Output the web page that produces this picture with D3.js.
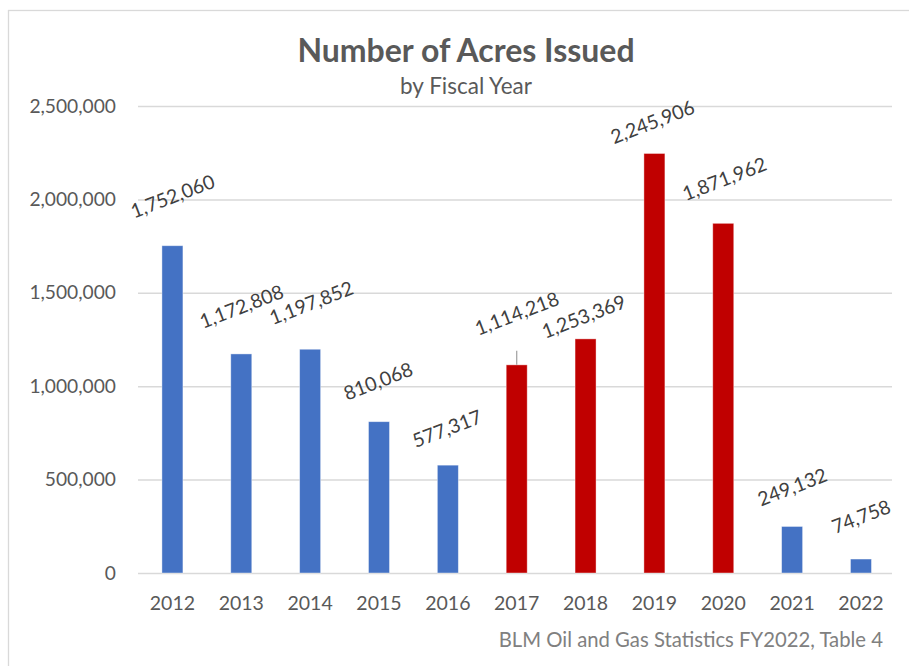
<!DOCTYPE html>
<html>
<head>
<meta charset="utf-8">
<script src="https://cdn.jsdelivr.net/npm/d3@7"></script>
<style>
  body { margin: 0; background: #fff; }
  text { font-family: Lato, "Open Sans", sans-serif; }
</style>
</head>
<body>
<svg id="chart" width="909" height="666"></svg>
<script>
const years = ['2012', '2013', '2014', '2015', '2016', '2017', '2018', '2019', '2020', '2021', '2022']
const acres = [1752060, 1172808, 1197852, 810068, 577317, 1114218, 1253369, 2245906, 1871962, 249132, 74758]
const highlighted = ['2017', '2018', '2019', '2020']
const yTicks = [0, 500000, 1000000, 1500000, 2000000, 2500000]

// label drag, the way the labels were moved by hand in the original (px)
const labelShift = [[0, 50], [0, 48], [1, 47], [-1, 41], [-1, 37], [0, 52], [-2, 23], [-2, 32], [1, 45], [0, 40], [0, 43]]

const svg = d3.select('#chart')
const blue = '#4472C4'
const red = '#C00000'
const gridColor = '#d9d9d9'
const textColor = '#595959'

// outer frame
svg.append('rect')
  .attr('x', 8.5).attr('y', 10.5)
  .attr('width', 1000).attr('height', 1000)
  .attr('fill', 'none')
  .attr('stroke', gridColor)
  .attr('stroke-width', 1.3)

const xScale = d3.scaleBand()
  .domain(years)
  .range([138, 895.4])
  .paddingInner(0.695)
  .paddingOuter(0.3475)

const yScale = d3.scaleLinear()
  .domain([0, 2500000])
  .range([573, 106])

const yAxis = d3.axisLeft(yScale)
  .tickValues(yTicks)
  .tickFormat(d3.format(','))
  .tickSize(-(892 - 138))
  .tickPadding(22)

svg.append('g')
  .attr('transform', 'translate(138, 0)')
  .call(yAxis)
  .call(g => g.select('.domain').remove())
  .call(g => g.selectAll('.tick line').style('stroke', gridColor).style('stroke-width', 1.5))
  .call(g => g.selectAll('.tick text')
    .style('fill', textColor)
    .style('font-size', '19.2px')
    .style('font-family', 'Lato, sans-serif'))

// bars
svg.selectAll('rect.bar')
  .data(years)
  .enter()
  .append('rect')
    .attr('class', 'bar')
    .attr('x', d => xScale(d))
    .attr('width', xScale.bandwidth())
    .attr('y', (d, i) => yScale(acres[i]))
    .attr('height', (d, i) => yScale(0) - yScale(acres[i]))
    .attr('fill', d => highlighted.includes(d) ? red : blue)
    .attr('stroke', '#fff')
    .attr('stroke-opacity', 0.5)
    .attr('stroke-width', 0.8)

// leader line for the 2017 label
const i2017 = years.indexOf('2017')
svg.append('line')
  .attr('x1', xScale('2017') + xScale.bandwidth() / 2)
  .attr('x2', xScale('2017') + xScale.bandwidth() / 2)
  .attr('y1', yScale(acres[i2017]) - 14)
  .attr('y2', yScale(acres[i2017]))
  .attr('stroke', '#a6a6a6')
  .attr('stroke-width', 1.3)

// rotated value labels
svg.selectAll('text.value')
  .data(years)
  .enter()
  .append('text')
    .attr('class', 'value')
    .attr('transform', (d, i) => {
      const cx = xScale(d) + xScale.bandwidth() / 2 + labelShift[i][0]
      const cy = yScale(acres[i]) - labelShift[i][1]
      return `translate(${cx}, ${cy}) rotate(-21)`
    })
    .attr('text-anchor', 'middle')
    .attr('dominant-baseline', 'central')
    .style('font-size', '19.5px')
    .style('fill', '#404040')
    .text((d, i) => d3.format(',')(acres[i]))

// x labels
svg.selectAll('text.year')
  .data(years)
  .enter()
  .append('text')
    .attr('class', 'year')
    .attr('x', d => xScale(d) + xScale.bandwidth() / 2)
    .attr('y', 610)
    .attr('text-anchor', 'middle')
    .style('font-size', '19.5px')
    .style('fill', textColor)
    .text(d => d)

// titles
svg.append('text')
  .attr('x', 466).attr('y', 62)
  .attr('text-anchor', 'middle')
  .style('font-size', '32px')
  .style('font-weight', 'bold')
  .style('fill', textColor)
  .text('Number of Acres Issued')

svg.append('text')
  .attr('x', 466).attr('y', 94)
  .attr('text-anchor', 'middle')
  .style('font-size', '22.5px')
  .style('fill', textColor)
  .text('by Fiscal Year')

svg.append('text')
  .attr('x', 883).attr('y', 647)
  .attr('text-anchor', 'end')
  .style('font-size', '20.3px')
  .style('fill', '#808080')
  .text('BLM Oil and Gas Statistics FY2022, Table 4')
</script>
</body>
</html>
